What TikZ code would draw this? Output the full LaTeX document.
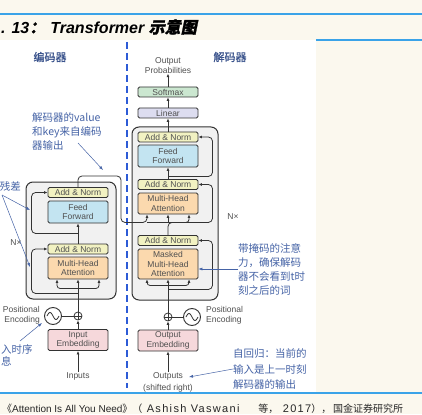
\documentclass[tikz,border=0pt]{standalone}
\usepackage{fontspec}
\setmainfont{Liberation Sans}
\newfontfamily\cjk{Noto Sans CJK SC}
\newfontfamily\cjkslant[FakeSlant=0.2,FakeBold=1.5]{Noto Sans CJK SC}
\newfontfamily\cjkbold[FakeBold=1.2]{Noto Sans CJK SC}
\newfontfamily\srcwide[LetterSpace=12]{Liberation Sans}
\usepackage{tikz}
\usetikzlibrary{positioning,arrows.meta}
\definecolor{paper}{HTML}{FBF8EE}
\definecolor{ruleblue}{HTML}{3AA3E8}
\definecolor{dashblue}{HTML}{2D5BD6}
\definecolor{noteblue}{HTML}{4563A6}
\definecolor{labgray}{HTML}{505050}
\definecolor{edge}{HTML}{333333}
\definecolor{stackgray}{HTML}{F1F1F1}
\definecolor{normyel}{HTML}{F2F2C2}
\definecolor{ffblue}{HTML}{C3E4F1}
\definecolor{attorange}{HTML}{FBD9AE}
\definecolor{embpink}{HTML}{F6D8DB}
\definecolor{smgreen}{HTML}{CBE7D0}
\definecolor{linlav}{HTML}{DDDDF0}
\tikzset{
  blk/.style={draw=edge,line width=0.9pt,rounded corners=1.5pt,minimum width=60pt,minimum height=10pt,inner sep=0pt,align=center,font=\fontsize{8.5}{9.5}\selectfont,text=labgray},
  norm/.style={blk,fill=normyel,minimum height=10pt},
  ffwd/.style={blk,fill=ffblue,minimum height=22pt},
  attn/.style={blk,fill=attorange,minimum height=22pt},
  emb/.style={blk,fill=embpink,minimum height=21pt},
  stack/.style={draw=edge,line width=1pt,fill=stackgray,rounded corners=7pt,inner sep=0pt},
  plus/.style={circle,draw=edge,line width=0.8pt,fill=white,inner sep=0pt,minimum size=8pt},
  wave/.style={circle,draw=edge,line width=0.9pt,fill=white,inner sep=0pt,minimum size=17pt},
  arr/.style={-{Latex[length=3.5pt,width=3pt]},line width=0.8pt,draw=edge},
  link/.style={line width=0.8pt,draw=edge,rounded corners=4pt},
  sine/.style={line width=0.8pt,draw=edge},
  lab/.style={font=\fontsize{8.5}{10}\selectfont,text=labgray,align=center,inner sep=0pt},
  note/.style={font=\cjk\fontsize{10.5}{14}\selectfont,text=noteblue,align=left,inner sep=0pt},
  notearr/.style={-{Latex[length=4pt,width=3pt]},draw=noteblue,line width=0.5pt},
  head/.style={font=\cjkbold\fontsize{11}{12}\selectfont,text=noteblue!85!black,inner sep=0pt}
}
\begin{document}
\begin{tikzpicture}[x=1pt,y=-1pt]
\useasboundingbox (0,0) rectangle (422,414);
\fill[paper] (0,0) rectangle (422,414);
\fill[white] (0,40) rectangle (316,392);
\draw[ruleblue,line width=1.2pt] (0,14) -- (422,14) (316,40) -- (422,40) (0,393) -- (422,393);
\node[anchor=west,inner sep=0pt,font=\fontsize{16}{16}\selectfont\bfseries\itshape] (title) at (1,27) {. 13{\cjkslant ：}\hspace{5pt}Transformer {\cjkslant 示意图}};
\node[anchor=west,inner sep=0pt,font=\fontsize{10}{12}\selectfont,text=black!85] (source) at (2,409) {{\cjk 《}Attention Is All You Need{\cjk 》（}\makebox[116pt][l]{\srcwide\fontsize{11}{12}\selectfont\ Ashish Vaswani}{\cjk 等，}\makebox[33pt][l]{\srcwide\fontsize{11}{12}\selectfont\ 2017}{\cjk ），\,国金证券研究所}};
\draw[dashblue,line width=1.6pt,dash pattern=on 7pt off 4pt] (127,42) -- (127,388);
\node[head] (enchead) at (50,57) {编码器};
\node[head] (dechead) at (230,57) {解码器};

% encoder
\node[stack,minimum width=90pt,minimum height=117pt] (encstack) at (71,240.5) {};
\node[emb] (iemb) at (78,340) {Input\\Embedding};
\node[plus] (eplus) at (78,316) {};
\node[wave] (esin) at (53,316) {};
\node[attn] (emha) at (78,268) {Multi-Head\\Attention};
\node[norm] (ean1) at (78,249) {Add \& Norm};
\node[ffwd] (eff) at (78,212) {Feed\\Forward};
\node[norm] (ean2) at (78,192.5) {Add \& Norm};
\node[lab] (inputs) at (78,376) {Inputs};
\node[lab,align=right,anchor=east] (epos) at (40,315.5) {Positional\\Encoding};
\node[lab] (encn) at (16,243) {N×};

% decoder
\node[stack,minimum width=86pt,minimum height=173pt] (decstack) at (175,213.5) {};
\node[emb] (oemb) at (168,340.5) {Output\\Embedding};
\node[plus] (dplus) at (168,317) {};
\node[wave] (dsin) at (192,317) {};
\node[blk,fill=attorange,minimum height=30pt] (dmmha) at (168,264) {Masked\\Multi-Head\\Attention};
\node[norm] (dan3) at (168,240.5) {Add \& Norm};
\node[attn,minimum height=21pt] (dmha) at (168,203.5) {Multi-Head\\Attention};
\node[norm] (dan2) at (168,184.5) {Add \& Norm};
\node[ffwd] (dff) at (168,156) {Feed\\Forward};
\node[norm] (dan1) at (168,137) {Add \& Norm};
\node[blk,fill=linlav] (dlin) at (168,113) {Linear};
\node[blk,fill=smgreen] (dsoft) at (168,92) {Softmax};
\node[lab] (outprob) at (168,65.5) {Output\\Probabilities};
\node[lab,font=\fontsize{8.5}{12}\selectfont] (outs) at (168,382) {Outputs\\(shifted right)};
\node[lab,align=left,anchor=west] (dpos) at (206,315.5) {Positional\\Encoding};
\node[lab] (decn) at (233,217) {N×};

\draw[sine,shift={(esin.center)}] plot[domain=-6:6,samples=31,smooth] (\x,{3.5*sin(30*\x)});
\draw[sine,shift={(dsin.center)}] plot[domain=-6:6,samples=31,smooth] (\x,{3.5*sin(30*\x)});
\draw[sine] (eplus.north) -- (eplus.south) (eplus.west) -- (eplus.east);
\draw[sine] (dplus.north) -- (dplus.south) (dplus.west) -- (dplus.east);

% encoder flow
\draw[arr] (inputs) -- (iemb);
\draw[arr] (iemb) -- (eplus);
\draw[link] (esin) -- (eplus);
\draw[arr] (eplus) -- (emha);
\draw[arr,rounded corners=3pt] ([yshift=-9pt]emha.south) -| ([xshift=-21pt]emha.south);
\draw[arr,rounded corners=3pt] ([yshift=-9pt]emha.south) -| ([xshift=21pt]emha.south);
\draw[arr,rounded corners=4pt] ([yshift=-14pt]emha.south) -| ([xshift=-16pt]ean1.west) -- (ean1.west);
\draw[arr] (ean1) -- (eff);
\draw[arr,rounded corners=4pt] ([yshift=-10pt]eff.south) -| ([xshift=-16pt]ean2.west) -- (ean2.west);
\coordinate (encturn) at (121,176);
\draw[arr,rounded corners=4pt] (ean2.north) |- (encturn) |- ([xshift=-21pt,yshift=-8pt]dmha.south) -- ([xshift=-21pt]dmha.south);
\draw[link] ([xshift=-21pt,yshift=-8pt]dmha.south) -- ([yshift=-8pt]dmha.south);

% decoder flow
\draw[arr] (outs) -- (oemb);
\draw[arr] (oemb) -- (dplus);
\draw[link] (dsin) -- (dplus);
\draw[arr] (dplus) -- (dmmha);
\draw[arr,rounded corners=3pt] ([yshift=-6pt]dmmha.south) -| ([xshift=-21pt]dmmha.south);
\draw[arr,rounded corners=3pt] ([yshift=-6pt]dmmha.south) -| ([xshift=21pt]dmmha.south);
\draw[arr,rounded corners=4pt] ([yshift=-10pt]dmmha.south) -| ([xshift=14pt]dan3.east) -- (dan3.east);
\draw[arr,rounded corners=4pt] (dan3.north) |- ([xshift=14pt,yshift=-8pt]dmha.south east) |- (dan2.east);
\draw[arr] ([yshift=-8pt]dmha.south) -- (dmha.south);
\draw[arr,rounded corners=3pt] ([yshift=-8pt]dmha.south) -| ([xshift=21pt]dmha.south);
\draw[arr] (dan2) -- (dff);
\draw[arr,rounded corners=4pt] ([yshift=-9pt]dff.south) -| ([xshift=14pt]dan1.east) -- (dan1.east);
\draw[arr] (dan1) -- (dlin);
\draw[arr] (dlin) -- (dsoft);
\draw[arr] (dsoft) -- (outprob);

% notes
\node[note,anchor=west] (vknote) at (32,131) {解码器的value\\和key来自编码\\器输出};
\coordinate (vkfrom) at (78,143);
\coordinate (vktip) at (103,170);
\draw[notearr] (vkfrom) -- (vktip);
\node[note,anchor=east] (resnote) at (21,186) {残差};
\coordinate (resfrom) at (2,195);
\coordinate (restip1) at (30,210);
\coordinate (restip2) at (30,267);
\draw[notearr] (resfrom) -- (restip1);
\draw[notearr] (resfrom) -- (restip2);
\node[note,anchor=north west,font=\cjk\fontsize{10.5}{12.5}\selectfont] (posnote) at (1,344) {入时序\\息};
\coordinate (posfrom) at (20,341);
\coordinate (postip) at (42,323);
\draw[notearr] (posfrom) -- (postip);
\node[note,anchor=west] (masknote) at (238,269) {带掩码的注意\\力，确保解码\\器不会看到t时\\刻之后的词};
\draw[notearr] (masknote.west) -- (masknote.west -| dmmha.east);
\node[note,anchor=west,font=\cjk\fontsize{10.5}{15.5}\selectfont] (arnote) at (233,369) {自回归：当前的\\输入是上一时刻\\解码器的输出};
\coordinate (artip) at (189,377);
\draw[notearr] (arnote.west) -- (artip);
\end{tikzpicture}
\end{document}
